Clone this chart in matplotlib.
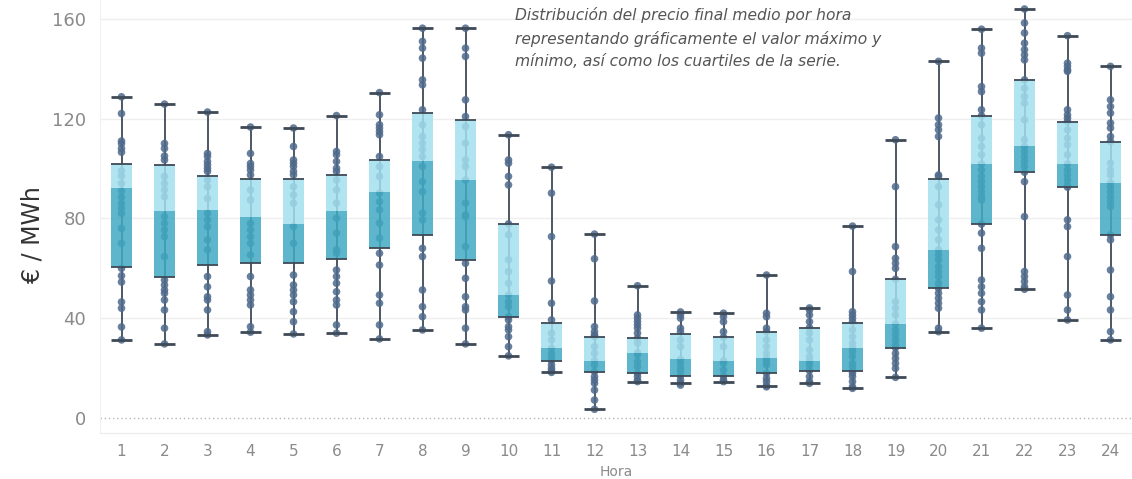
import matplotlib
matplotlib.use("Agg")
import matplotlib.pyplot as plt
import numpy as np

horas = list(range(1, 25))

# estadisticos de la caja por hora (EUR/MWh)
minimo = [31.3, 29.7, 33.3, 34.4, 33.7, 34.0, 31.7, 35.3, 29.7, 24.9, 18.3, 3.5,
          14.6, 13.9, 14.6, 13.0, 13.9, 11.9, 16.3, 34.6, 36.0, 51.6, 39.3, 31.3]
q1 = [60.6, 56.7, 61.3, 62.3, 62.0, 63.6, 68.0, 73.4, 63.4, 40.6, 23.0, 18.6,
      17.9, 16.8, 16.8, 17.9, 19.0, 19.0, 28.2, 52.0, 77.7, 98.5, 92.5, 73.4]
mediana = [92.2, 83.0, 83.4, 80.6, 77.8, 83.1, 90.5, 102.8, 95.4, 49.3, 28.0, 23.0,
           26.2, 23.5, 22.9, 23.9, 22.9, 28.2, 37.7, 67.4, 101.8, 108.8, 101.8, 94.3]
q3 = [101.8, 101.4, 97.0, 95.8, 95.8, 97.4, 103.4, 122.2, 119.5, 77.7, 38.0, 32.6,
      32.0, 33.6, 32.4, 34.6, 36.2, 38.0, 55.6, 95.7, 121.1, 135.5, 118.8, 110.8]
maximo = [128.7, 125.8, 122.6, 116.6, 116.2, 121.2, 130.4, 156.2, 156.2, 113.5, 100.5, 73.7,
          53.0, 42.5, 42.0, 57.3, 44.1, 76.9, 111.5, 142.9, 155.8, 163.9, 153.2, 140.9]

# precios diarios leidos por hora
puntos = [
    [128.7, 122, 111, 110, 108, 106.5, 99, 97, 94, 91, 88.5, 86, 84, 82, 76, 70, 60, 57, 54.5, 46.5, 44, 36.5, 31.3],
    [125.8, 110, 108, 105, 103.4, 96.8, 94, 91.4, 88.7, 80.7, 78, 75.4, 72.7, 64.7, 55.3, 53.3, 51.3, 50, 47.3, 43.3, 36, 29.7],
    [122.6, 106, 104.8, 102.8, 101.4, 100, 98.8, 95.4, 92.7, 88, 82, 79.4, 76.7, 71.4, 67.4, 56.7, 52.6, 48.6, 47.3, 43.3, 34.6, 33.3],
    [116.6, 106, 102, 100.8, 99.4, 97.4, 91.4, 87.4, 78, 75.4, 72.7, 70, 65.4, 56.7, 51.3, 49.3, 47.3, 45.3, 36.6, 34.4],
    [116.2, 108.8, 103.4, 102.1, 100.8, 98.8, 97.4, 92.7, 89.4, 86.1, 76.7, 70, 57.3, 53.3, 51.3, 49.3, 46.6, 42.6, 38.6, 33.7],
    [121.2, 106.8, 105.5, 102.8, 100.1, 98.8, 95.4, 91.4, 86.1, 80.1, 74.1, 67.4, 66.1, 59.3, 56.7, 54, 50.6, 47.3, 45.3, 37.3, 34],
    [130.4, 121.5, 117.5, 116.2, 114.8, 113.5, 104.8, 100.8, 96.8, 90.1, 86.7, 83.4, 78.1, 72.1, 66, 61.3, 49.3, 46, 37.3, 31.7],
    [156.2, 150.9, 148.2, 144.2, 135.5, 133.5, 123.5, 117.5, 112.8, 110.1, 107.5, 104.8, 100.8, 94.7, 90.7, 82.1, 79.4, 68, 64.7, 51.3, 44.6, 40.6, 35.3],
    [156.2, 148.2, 144.9, 127.5, 120.8, 116.8, 110.1, 103.4, 100.8, 95.4, 86.1, 81.4, 80.7, 68.7, 62, 56, 48.6, 44.6, 43.3, 36, 29.7],
    [113.5, 103.4, 102.1, 96.8, 93.4, 77.8, 73.4, 63.4, 58.7, 54, 49.3, 46.6, 44.6, 40.6, 39.3, 36.6, 35.3, 32.6, 28.6, 24.9],
    [100.5, 90.1, 72.7, 54.9, 46, 39.3, 34, 31.3, 28, 25.9, 24.6, 23, 21.3, 19.9, 19, 18.3],
    [73.7, 63.8, 46.9, 36.6, 34.6, 33.3, 32.6, 28.6, 25.9, 23, 21.3, 18.6, 16.6, 15.2, 13.9, 11.2, 7.2, 3.5],
    [53, 41.3, 40, 38.6, 37.3, 36, 34, 32, 30, 26.2, 25.3, 22.6, 20.6, 17.9, 16.6, 15.2, 14.6],
    [42.5, 41.3, 40, 36, 34.6, 31.3, 28.6, 23.5, 21.9, 19.9, 18.6, 16.8, 15.2, 14, 13.2],
    [42, 40.6, 38.6, 34.6, 32.4, 28.6, 22.9, 21.9, 19.2, 16.8, 15.2, 14.6],
    [57.3, 42, 40.6, 36, 34.6, 31.3, 28.6, 25.9, 23.9, 22.6, 21.3, 17.9, 15.9, 14.6, 13, 12.5],
    [44.1, 43.3, 41.3, 38.6, 36.2, 34, 31.3, 27.3, 24.6, 22.9, 21.3, 19, 16.6, 14.6, 13.9],
    [76.9, 58.7, 42.6, 41.3, 40, 38.6, 35.3, 32.6, 30, 28.2, 26.6, 24.6, 21.9, 20.6, 19, 17.9, 16.6, 14.6, 12.5, 11.9],
    [111.5, 92.7, 68.7, 64, 62, 60, 55.6, 46.6, 44, 41.3, 37.7, 35.3, 33.3, 31.3, 29.3, 28.2, 25.9, 23.9, 21.9, 19.9, 16.3],
    [142.9, 120.2, 117.5, 115.5, 112.8, 97.4, 96.8, 92.7, 85.4, 79.4, 75.4, 71.4, 67.4, 65.4, 63.4, 60.7, 58.7, 56.7, 54, 52, 50, 48, 46, 44, 36, 34.6],
    [155.8, 148.2, 146.2, 132.8, 130.8, 123.5, 121.1, 117.5, 112.1, 108.8, 105.5, 101.8, 99.4, 96.8, 94.7, 92.7, 90.7, 88.7, 87.4, 77.7, 74.1, 68, 55.3, 52.6, 50, 46.6, 43.3, 36],
    [163.9, 158.3, 154.3, 150.2, 147.6, 145.5, 143.5, 135.5, 132.1, 128.8, 126.2, 119.5, 111.5, 108.8, 106.8, 104.8, 102.8, 100.8, 98.5, 94.7, 80.7, 58.7, 56.7, 54.7, 52.6, 51.6],
    [153.2, 142.2, 140.9, 139.5, 138.9, 123.5, 121.5, 120.2, 118.8, 115.5, 112.1, 109.5, 105.5, 101.8, 99.4, 97.4, 95.4, 93.4, 92.5, 79.4, 76.7, 64.7, 49.3, 43.3, 39.3],
    [140.9, 127.5, 124.8, 122.2, 118.2, 116.2, 112.8, 110.8, 102.1, 99.4, 97.4, 94.3, 92.7, 90.7, 88.7, 86.7, 84.7, 73.4, 71.4, 59.3, 48.6, 43.3, 34.6, 31.3],
]

nota = ("Distribución del precio final medio por hora\n"
        "representando gráficamente el valor máximo y\n"
        "mínimo, así como los cuartiles de la serie.")

oscuro = "#40aac3"
claro = "#a2e0ef"
punto = "#4f6a8c"
linea = "#3f4a57"

fig = plt.figure(figsize=(11.32, 4.79), dpi=100)
ax = fig.add_axes([100 / 1132, 46 / 479, 1032 / 1132, 433 / 479])

x = np.array(horas)
w = 0.5

# bigotes
ax.vlines(x, minimo, maximo, color=linea, lw=1.3, zorder=1)
ax.hlines(minimo, x - w / 2, x + w / 2, color=linea, lw=2, zorder=5)
ax.hlines(maximo, x - w / 2, x + w / 2, color=linea, lw=2, zorder=5)

# puntos
for h, vals in zip(horas, puntos):
    ax.scatter([h] * len(vals), vals, s=30, color=punto, alpha=0.85,
               edgecolors="none", zorder=2)

# cajas
q1a, meda, q3a = np.array(q1), np.array(mediana), np.array(q3)
ax.bar(x, meda - q1a, bottom=q1a, width=w, color=oscuro, alpha=0.85, zorder=3)
ax.bar(x, q3a - meda, bottom=meda, width=w, color=claro, alpha=0.85, zorder=3)
ax.hlines(q1, x - w / 2, x + w / 2, color=linea, lw=1.3, zorder=4)
ax.hlines(q3, x - w / 2, x + w / 2, color=linea, lw=1.3, zorder=4)

ax.set_xlim(0.5, 24.5)
ax.set_ylim(-6, 167.5)
ax.set_xticks(horas)
ax.set_xticklabels([str(h) for h in horas])
ax.set_yticks([0, 40, 80, 120, 160])
ax.tick_params(axis="x", length=0, labelsize=11, colors="#8a8a8a", pad=8)
ax.tick_params(axis="y", length=0, labelsize=13, colors="#8a8a8a", pad=10)

for s in ["top", "right"]:
    ax.spines[s].set_visible(False)
ax.spines["left"].set_color("#f0f0f0")
ax.spines["bottom"].set_color("#ebebeb")

for v in [40, 80, 120, 160]:
    ax.axhline(v, color="#efefef", lw=1, zorder=0)
ax.axhline(0, color="#b5b5b5", lw=1, ls=(0, (1, 2)), zorder=0)

ax.set_xlabel("Hora", fontsize=10, color="#8a8a8a", labelpad=4)
fig.text(33 / 1132, 1 - 235 / 479, "€ / MWh", rotation=90, fontsize=17, color="#333333",
         ha="center", va="center")

fig.text(515 / 1132, 1 - 7 / 479, nota, fontsize=11.2, style="italic",
         color="#555555", ha="left", va="top", linespacing=1.6)

fig.savefig("out.png", dpi=100)
